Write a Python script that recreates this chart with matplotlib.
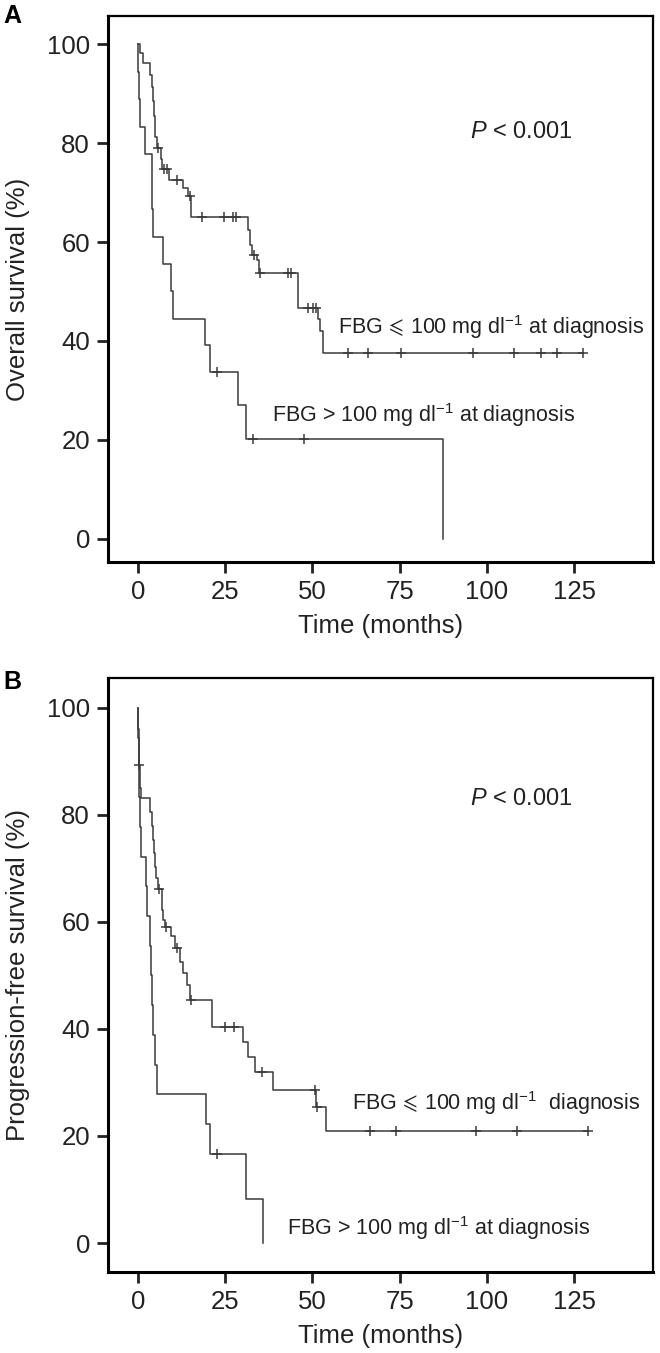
import numpy as np
import matplotlib.pyplot as plt

plt.rcParams['font.family'] = ['Liberation Sans', 'DejaVu Sans']
plt.rcParams['mathtext.fontset'] = 'custom'
plt.rcParams['mathtext.rm'] = 'Liberation Sans'
plt.rcParams['mathtext.it'] = 'Liberation Sans:italic'
plt.rcParams['mathtext.fallback'] = 'stixsans'

# --- panel A: overall survival ---
a_low_t = [0, 0.5, 1.4, 3.5, 3.9, 4.2, 4.5, 4.8, 5.0, 5.4, 6.5, 6.9, 9.0, 13.0, 14.4, 15.1,
           31.6, 32.2, 32.8, 34.0, 34.8, 45.9, 51.5, 52.2, 53.1, 127.5]
a_low_s = [100, 98.1, 96.1, 93.7, 91.4, 88.5, 85.5, 83.0, 81.2, 79.0, 76.8, 74.8, 72.5, 70.9, 69.2, 65.1,
           62.4, 59.4, 57.4, 56.4, 53.7, 46.6, 44.5, 42.0, 37.5, 37.5]
a_low_cens = [5.8, 7.4, 8.2, 11.1, 14.9, 18.2, 24.6, 27.3, 28.1, 33.2, 35.0, 43.1, 43.8,
              48.8, 50.2, 51.0, 60.2, 65.9, 75.4, 96.0, 107.7, 115.5, 120.1, 127.5]

a_high_t = [0, 0.1, 0.2, 0.5, 2.0, 3.9, 4.1, 4.4, 7.3, 9.5, 10.1, 19.2, 20.6, 28.7, 30.9, 87.4]
a_high_s = [100, 94.4, 88.9, 83.3, 77.8, 72.2, 66.7, 61.1, 55.6, 50.0, 44.4, 39.2, 33.8, 27.1, 20.1, 0]
a_high_cens = [22.5, 32.9, 47.6]

# --- panel B: progression-free survival ---
b_low_t = [0, 0.1, 0.2, 0.3, 0.6, 0.9, 3.4, 3.9, 4.4, 4.7, 4.9, 5.3, 5.8, 6.8, 7.3, 7.8, 9.4, 10.5,
           12.0, 13.0, 14.1, 14.9, 21.1, 30.2, 31.6, 33.5, 38.6, 51.0, 53.9, 129.0]
b_low_s = [100, 96.0, 92.0, 89.3, 85.0, 83.1, 80.6, 78.0, 75.3, 72.8, 70.3, 68.2, 66.2, 62.2, 60.4, 59.0, 57.3, 55.1,
           52.6, 50.5, 48.2, 45.4, 40.4, 37.6, 34.8, 32.0, 28.6, 25.4, 20.9, 20.9]
b_low_cens = [0.3, 6.1, 8.0, 11.3, 15.1, 24.9, 27.6, 35.4, 50.7, 51.4, 66.5, 73.9, 96.8, 108.5, 129.0]

b_high_t = [0, 0.1, 0.2, 0.4, 0.6, 1.0, 2.4, 2.6, 3.4, 3.6, 3.9, 4.2, 4.9, 5.5, 19.5, 20.7, 30.9, 35.9]
b_high_s = [100, 94.4, 88.9, 83.3, 77.8, 72.2, 66.7, 61.1, 55.6, 50.0, 44.4, 38.9, 33.3, 27.8, 22.2, 16.7, 8.3, 0]
b_high_cens = [22.5]

x_ticks = [0, 25, 50, 75, 100, 125]
y_ticks = [0, 20, 40, 60, 80, 100]

W, H = 660, 1353
LINE = '#3a3a3a'
FS = 18.5
LE = r'$\,\leqslant\,$'

fig = plt.figure(figsize=(W / 100, H / 100), dpi=100)


def px_axes(l, t, r, b):
    return fig.add_axes([l / W, 1 - b / H, (r - l) / W, (b - t) / H])


def km(ax, t, s, cens):
    ax.step(t, s, where='post', color=LINE, lw=1.1)
    t = np.asarray(t)
    s = np.asarray(s)
    idx = np.searchsorted(t, cens, side='right') - 1
    ax.plot(cens, s[idx], '+', ms=7, mew=1.1, color=LINE, ls='none')


def style(ax, ylim, ylabel, h_px):
    ax.set_xlim(-8.6, 147.6)
    ax.set_ylim(*ylim)
    ax.set_xticks(x_ticks)
    ax.set_yticks(y_ticks)
    for sp in ax.spines.values():
        sp.set_linewidth(1.6)
    ax.spines['left'].set_linewidth(2.2)
    ax.spines['bottom'].set_linewidth(2.2)
    ax.tick_params(direction='out', length=8, width=2, labelsize=FS, pad=5, colors='#222222')
    ax.set_xlabel('Time (months)', fontsize=FS, color='#222222')
    ax.set_ylabel(ylabel, fontsize=FS, color='#222222')
    ax.yaxis.set_label_coords(-0.143, 0.5)
    ax.xaxis.set_label_coords(0.5, -52 / h_px)


# panel A
axA = px_axes(108, 16, 653, 562)
km(axA, a_low_t, a_low_s, a_low_cens)
km(axA, a_high_t, a_high_s, a_high_cens)
style(axA, (-4.65, 105.66), 'Overall survival (%)', 546)
axA.text(95.1, 82.2, '$P$ < 0.001', fontsize=17, va='center', ha='left', color='#222222')
axA.text(57.3, 42.8, 'FBG' + LE + '100 mg dl$^{-1}$ at diagnosis', fontsize=15.5,
         va='center', ha='left', color='#222222')
axA.text(38.4, 25.0, 'FBG > 100 mg dl$^{-1}$ at diagnosis', fontsize=15.5,
         va='center', ha='left', color='#222222')

# panel B
axB = px_axes(108, 678, 653, 1272)
km(axB, b_low_t, b_low_s, b_low_cens)
km(axB, b_high_t, b_high_s, b_high_cens)
style(axB, (-5.42, 105.6), 'Progression-free survival (%)', 594)
axB.text(95.1, 83.0, '$P$ < 0.001', fontsize=17, va='center', ha='left', color='#222222')
axB.text(61.3, 26.2, 'FBG' + LE + '100 mg dl$^{-1}$  diagnosis', fontsize=15.5,
         va='center', ha='left', color='#222222')
axB.text(42.7, 2.8, 'FBG > 100 mg dl$^{-1}$ at diagnosis', fontsize=15.5,
         va='center', ha='left', color='#222222')

fig.text(12 / W, 1 - 16 / H, 'A', fontsize=18, fontweight='bold', ha='center', va='center')
fig.text(12 / W, 1 - 682 / H, 'B', fontsize=18, fontweight='bold', ha='center', va='center')

fig.savefig('out.png', dpi=100)
